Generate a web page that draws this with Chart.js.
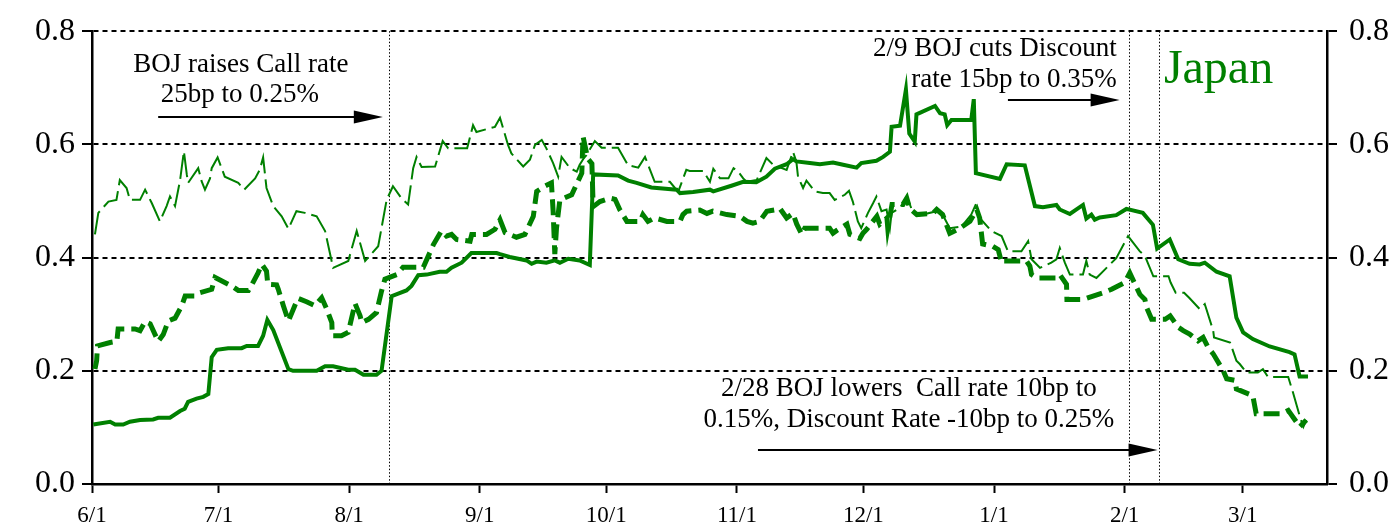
<!DOCTYPE html>
<html><head><meta charset="utf-8">
<script src="https://cdn.jsdelivr.net/npm/chart.js@4.4.1/dist/chart.umd.min.js"></script>
<style>html,body{margin:0;padding:0;background:#fff;}canvas{display:block;}</style>
</head><body>
<canvas id="c" width="1399" height="528"></canvas>
<script>
// x values are days counted from 6/1 (2000)
const monthDays = [0,30,61,92,122,153,183,214,245,273];
const monthLabels = ['6/1','7/1','8/1','9/1','10/1','11/1','12/1','1/1','2/1','3/1'];
const yTicks = [0,0.2,0.4,0.6,0.8];

// Series A: thick solid
const daysA = [0.3,4.3,5.5,7.4,9,11.4,14.5,15.7,18.5,20.9,22,22.8,24.8,26.4,27.6,28.4,29.6,32.3,35.5,36.7,39.4,40.6,41.6,43,46.6,47.7,53.3,55.3,57.2,60.8,62.4,64.4,67.5,68.7,71.1,74.6,75.8,77.4,79.4,82.5,84.1,85.3,87.7,90,96,96.8,99.1,103.1,104.3,105.5,107.8,109.8,111,113,115.7,118.1,118.9,124.8,127.2,129.2,132.7,138.7,139.5,142.6,146.6,147.4,151.7,154.5,157.6,160,162,164.8,166.3,167.1,170.3,172.7,175.8,178.2,181.4,182.5,186.1,187.7,189.3,189.7,191.7,193.1,193.9,195.2,195.6,200,201.2,202.3,202.9,203.9,208.6,209.2,209.7,215.4,217,221.3,223.7,225.6,228.8,229.6,232,235.1,235.9,237.1,237.9,239.1,243,245.4,249.3,251.7,252.7,255.7,257.7,260.4,262.8,264,266.8,269.9,271.5,273.1,275.4,279.4,284.1,285.3,286.5,288.5];
const valsA = [0.105,0.110,0.105,0.105,0.110,0.113,0.114,0.117,0.117,0.129,0.133,0.145,0.151,0.154,0.159,0.224,0.237,0.240,0.240,0.244,0.244,0.262,0.290,0.272,0.203,0.200,0.200,0.208,0.208,0.202,0.202,0.193,0.193,0.200,0.332,0.342,0.350,0.369,0.370,0.375,0.375,0.382,0.391,0.408,0.408,0.406,0.401,0.395,0.389,0.393,0.391,0.395,0.391,0.398,0.395,0.387,0.547,0.545,0.536,0.532,0.524,0.520,0.514,0.516,0.520,0.517,0.527,0.534,0.533,0.543,0.557,0.565,0.574,0.570,0.567,0.565,0.568,0.564,0.559,0.567,0.571,0.578,0.587,0.631,0.633,0.697,0.619,0.605,0.653,0.668,0.655,0.653,0.634,0.643,0.643,0.680,0.549,0.539,0.565,0.563,0.491,0.489,0.493,0.485,0.477,0.493,0.469,0.476,0.467,0.471,0.475,0.486,0.479,0.458,0.416,0.432,0.397,0.389,0.388,0.391,0.375,0.367,0.294,0.268,0.256,0.243,0.233,0.229,0.190,0.190];

// Series B: thick dashed
const daysB = [0.7,1.1,1.3,4.3,5.9,6.2,10.2,11.4,12.6,13.8,15.7,16.9,18.1,19.7,21.3,22.1,24.4,25.6,28.4,29.2,33.1,34.7,37.1,37.9,39.4,40.3,41.4,41.7,43.8,44.2,45.4,46.6,48.1,48.9,50.9,52.9,54.5,55.7,56.9,57.0,59.2,60.8,62.4,63.6,64.0,65.6,67.5,68.7,69.5,72.3,73.8,78.6,81.0,82.9,84.1,85.3,86.5,89.7,90.1,93.6,95.6,96.8,98.0,100.7,102.7,104.7,105.5,107.4,109.0,109.4,109.8,110.2,111.0,113.8,116.2,116.5,117.6,118.6,118.9,120.5,122.9,124.1,125.2,126.9,130.0,130.7,131.9,133.5,136.4,139.5,140.2,141.1,144.2,145.9,147.3,150.6,153.7,155.4,156.8,158.4,160.1,162.5,163.2,164.8,166.3,167.2,168.4,169.1,175.0,175.8,176.7,179.1,179.8,182.2,182.9,183.8,186.2,186.9,188.6,188.8,189.8,192.4,193.3,194.0,195.7,199.5,200.4,201.8,203.5,205.9,208.3,209.9,210.6,211.3,213.7,215.0,215.8,216.2,221.7,222.5,222.9,224.1,228.8,229.6,231.2,231.3,235.2,237.5,239.9,241.9,245.0,246.2,248.6,249.8,250.2,251.4,254.6,255.8,257.7,258.9,260.4,262.4,263.6,264.8,266.0,268.4,269.2,271.2,271.5,275.4,276.2,282.1,283.8,285.7,286.5,288.1];
const valsB = [0.203,0.218,0.244,0.250,0.252,0.274,0.274,0.271,0.287,0.283,0.252,0.264,0.288,0.293,0.315,0.332,0.332,0.338,0.344,0.365,0.350,0.342,0.342,0.352,0.373,0.388,0.376,0.353,0.352,0.344,0.315,0.288,0.315,0.328,0.322,0.315,0.329,0.309,0.285,0.262,0.262,0.268,0.319,0.297,0.285,0.291,0.303,0.341,0.362,0.370,0.383,0.383,0.423,0.447,0.438,0.441,0.432,0.429,0.441,0.441,0.450,0.467,0.444,0.436,0.441,0.473,0.517,0.526,0.532,0.482,0.406,0.452,0.502,0.511,0.549,0.614,0.575,0.566,0.490,0.499,0.505,0.503,0.485,0.464,0.464,0.476,0.464,0.470,0.464,0.464,0.476,0.482,0.484,0.478,0.482,0.476,0.473,0.464,0.461,0.464,0.482,0.485,0.487,0.470,0.478,0.459,0.441,0.452,0.452,0.443,0.448,0.459,0.441,0.434,0.443,0.450,0.473,0.459,0.470,0.452,0.494,0.494,0.505,0.487,0.476,0.478,0.485,0.476,0.443,0.452,0.464,0.485,0.470,0.424,0.420,0.414,0.391,0.394,0.394,0.385,0.370,0.364,0.364,0.370,0.353,0.326,0.326,0.332,0.338,0.344,0.356,0.373,0.335,0.326,0.312,0.291,0.291,0.297,0.277,0.271,0.265,0.253,0.259,0.241,0.230,0.200,0.186,0.183,0.168,0.156,0.124,0.124,0.130,0.110,0.101,0.113];

// Series C: thin dashed
const daysC = [0.7,1.5,3.9,5.8,6.6,8.2,9,11.4,12.6,14.2,16.1,17.7,18.5,19.7,20.9,21.8,22.5,22.8,25.2,26,26.8,28,28.4,29.8,31.5,34.7,36.1,38.7,39.8,40.6,41.4,43,45,46.6,48.5,50.5,53.3,55.3,57.2,60.8,62.8,64.8,67.9,69.9,71.4,73.4,75,76.2,77,78.2,81.4,83.2,84.5,89,90.4,91.2,95.6,96.8,98.7,99.5,102.3,103.9,105.1,106.7,107.8,109.4,110.6,111.4,113.4,115,115.7,116.7,117.3,119.3,120.9,124.8,127.2,129.6,131.2,133.5,137.1,138.3,139.1,141,141.8,145,146.6,147.4,149,151,152.2,153.3,154.5,155.3,157.7,160,161.6,164.8,166.3,167.1,167.5,168.7,169.5,171.5,173.4,175,176.2,178.6,179.6,180.5,181.7,182.5,184.1,185.3,186.1,187.3,188.5,189.3,189.7,191.7,193.3,194.8,197.2,200.4,202,203.5,206.3,208.6,209.8,210.6,213.4,215.8,217.3,220.5,222.1,222.9,224.9,227.6,228.8,229.6,230.8,232,235.1,235.9,236.7,238.3,243,245.8,248.6,249.8,251.8,255.4,255.9,257.1,259.1,260.3,262.8,264,266.0,266.2,270,271.5,272.3,273.9,276.6,277.8,279,283.8,285,286.6,287.4,288.1];
const valsC = [0.441,0.479,0.499,0.502,0.537,0.523,0.502,0.502,0.520,0.496,0.464,0.491,0.508,0.491,0.537,0.588,0.546,0.532,0.558,0.535,0.520,0.540,0.558,0.577,0.543,0.532,0.520,0.540,0.555,0.577,0.523,0.491,0.473,0.451,0.482,0.479,0.473,0.447,0.382,0.394,0.447,0.394,0.420,0.502,0.526,0.505,0.494,0.558,0.578,0.560,0.561,0.606,0.593,0.593,0.634,0.622,0.631,0.647,0.599,0.584,0.561,0.573,0.599,0.608,0.593,0.567,0.543,0.578,0.558,0.552,0.564,0.576,0.581,0.606,0.594,0.594,0.563,0.559,0.578,0.534,0.534,0.523,0.517,0.555,0.553,0.553,0.534,0.557,0.540,0.540,0.558,0.552,0.540,0.534,0.537,0.576,0.564,0.555,0.587,0.570,0.543,0.523,0.536,0.517,0.514,0.514,0.502,0.511,0.518,0.499,0.464,0.452,0.479,0.496,0.508,0.482,0.485,0.452,0.479,0.488,0.508,0.479,0.476,0.482,0.473,0.452,0.455,0.476,0.496,0.470,0.447,0.438,0.411,0.411,0.429,0.397,0.382,0.391,0.397,0.417,0.391,0.370,0.370,0.394,0.370,0.364,0.399,0.438,0.411,0.403,0.367,0.367,0.356,0.338,0.338,0.329,0.309,0.318,0.271,0.259,0.250,0.218,0.212,0.197,0.197,0.203,0.189,0.189,0.160,0.118,0.101,0.113];

// annotation anchors (day, value)
const eventDays = [70.4, 246.0, 253.1];
const noteTexts = ['BOJ raises Call rate','25bp to 0.25%','2/9 BOJ cuts Discount','rate 15bp to 0.35%','2/28 BOJ lowers  Call rate 10bp to','0.15%, Discount Rate -10bp to 0.25%'];
const noteAnchors = [[35.3,0.728,'center'],[35.1,0.675,'center'],[243.1,0.756,'right'],[243.1,0.702,'right'],[193.8,0.155,'center'],[193.8,0.100,'center']];
const arrowSpecs = [[15.7,69.0,0.649],[217.3,243.8,0.679],[158.0,252.8,0.060]];
const titleText = 'Japan';
const titleAnchor = [254.3,0.709];

const GREEN = 'rgb(0,128,0)';
const SERIF = '"Liberation Serif","Times New Roman",serif';
const pts = (d,v) => d.map((x,i)=>({x:x,y:v[i]}));

const notesPlugin = {
  id:'notes',
  beforeDatasetsDraw(chart){
    const {ctx, chartArea:a, scales:{x}} = chart;
    ctx.save();
    ctx.strokeStyle='#000'; ctx.lineWidth=1; ctx.setLineDash([1.5,2]);
    eventDays.forEach(d=>{
      const px = Math.round(x.getPixelForValue(d))+0.5;
      ctx.beginPath(); ctx.moveTo(px,a.top); ctx.lineTo(px,a.bottom); ctx.stroke();
    });
    ctx.restore();
  },
  afterDatasetsDraw(chart){
    const {ctx, scales:{x,y}} = chart;
    ctx.save();
    ctx.fillStyle='#000';
    ctx.font = '27px '+SERIF;
    ctx.textBaseline='alphabetic';
    noteTexts.forEach((t,i)=>{
      const [d,v,al]=noteAnchors[i];
      ctx.textAlign=al;
      ctx.fillText(t, x.getPixelForValue(d), y.getPixelForValue(v));
    });
    ctx.strokeStyle='#000'; ctx.lineWidth=2;
    arrowSpecs.forEach(([d0,d1,v])=>{
      const x0=x.getPixelForValue(d0), x1=x.getPixelForValue(d1), py=Math.round(y.getPixelForValue(v));
      const hl=29, hh=6.5;
      ctx.beginPath(); ctx.moveTo(x0,py); ctx.lineTo(x1-hl+2,py); ctx.stroke();
      ctx.beginPath(); ctx.moveTo(x1,py); ctx.lineTo(x1-hl,py-hh); ctx.lineTo(x1-hl,py+hh); ctx.closePath(); ctx.fill();
    });
    ctx.fillStyle=GREEN;
    ctx.font='48px '+SERIF;
    ctx.textAlign='left';
    ctx.fillText(titleText, x.getPixelForValue(titleAnchor[0]), y.getPixelForValue(titleAnchor[1]));
    ctx.restore();
  }
};

const yScale = (pos, w, onArea, pad) => ({
  type:'linear', position:pos, min:0, max:0.8,
  afterBuildTicks: s => { s.ticks = yTicks.map(v=>({value:v})); },
  afterFit: s => { s.width = w; },
  ticks:{ callback: v => Number(v).toFixed(1), color:'#000', font:{family:SERIF, size:32}, padding:pad },
  grid:{ display:true, drawOnChartArea:onArea, color:'#000', lineWidth:2, drawTicks:true, tickLength:10, tickColor:'#000', tickWidth:2, tickBorderDash:[] },
  border:{ display:true, color:'#000', width:2.5, dash:[5,4] }
});

new Chart(document.getElementById('c'), {
  type:'line',
  data:{ datasets:[
    { label:'A', data:pts(daysA,valsA), borderColor:GREEN, borderWidth:4, pointRadius:0, tension:0, fill:false },
    { label:'B', data:pts(daysB,valsB), borderColor:GREEN, borderWidth:5, borderDash:[16,7], pointRadius:0, tension:0, fill:false },
    { label:'C', data:pts(daysC,valsC), borderColor:GREEN, borderWidth:2, borderDash:[24,6], pointRadius:0, tension:0, fill:false }
  ]},
  options:{
    responsive:false, animation:false, devicePixelRatio:1,
    layout:{ padding:{ top:29, left:0, right:0, bottom:0 } },
    plugins:{ legend:{display:false}, tooltip:{enabled:false} },
    scales:{
      x:{ type:'linear', min:0, max:293,
        afterBuildTicks: s => { s.ticks = monthDays.map(v=>({value:v})); },
        afterFit: s => { s.height = 44; },
        ticks:{ autoSkip:false, maxRotation:0, color:'#000', font:{family:SERIF, size:23}, padding:9,
          callback: v => { const i = monthDays.indexOf(v); return i>=0 ? monthLabels[i] : ''; } },
        grid:{ drawOnChartArea:false, drawTicks:true, tickLength:9, tickColor:'#000', tickWidth:2, color:'#000' },
        border:{ display:true, color:'#000', width:2.5 }
      },
      y: yScale('left', 92, true, 7),
      y2: yScale('right', 72, false, 12)
    }
  },
  plugins:[notesPlugin]
});
</script>
</body></html>
